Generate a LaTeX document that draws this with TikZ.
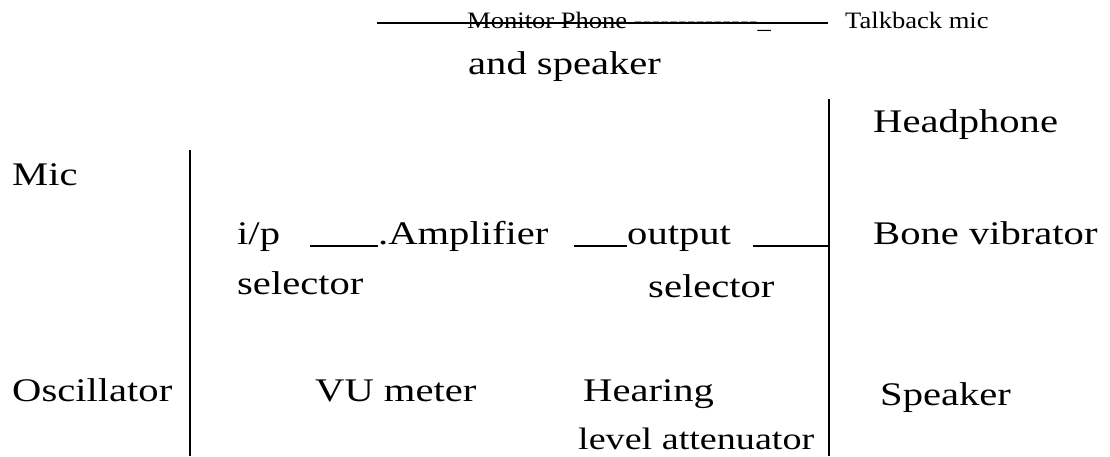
\documentclass[tikz,border=0pt]{standalone}
\usepackage{fontspec}
\setmainfont[FakeStretch=1.23]{Liberation Serif}
\newfontfamily\smallfont[FakeStretch=1.13]{Liberation Serif}
\newcommand\hy{-\kern0pt}
\begin{document}
\begin{tikzpicture}[x=1pt,y=-1pt,
  lbl/.style={anchor=base west,inner sep=0pt,font=\fontsize{33}{36}\selectfont},
  small/.style={anchor=base west,inner sep=0pt,font=\smallfont\fontsize{23.5}{26}\selectfont},
  wire/.style={line width=1.2pt}]
\useasboundingbox (0,0) rectangle (1110,456);

% top row
\coordinate (tl) at (377,23);
\coordinate (tr) at (828,23);
\draw[wire] (tl) -- (tr);
\node[small] (mon) at (467,28) {Monitor Phone \hy\hy\hy\hy\hy\hy\hy\hy\hy\hy\hy\hy\hy\hy\_};
\node[small] (talk) at (845,28) {Talkback mic};
\node[lbl] (spk) at (468,74) {and speaker};

% bus lines
\coordinate (ltop) at (190,150);
\coordinate (lbot) at (190,456);
\coordinate (rtop) at (829,99);
\coordinate (rmid) at (829,246);
\coordinate (rbot) at (829,456);
\draw[wire] (ltop) -- (lbot);
\draw[wire] (rtop) -- (rbot);

% inputs
\node[lbl] (mic) at (12,185) {Mic};
\node[lbl] (osc) at (12,401) {Oscillator};

% middle chain
\node[lbl] (ip) at (237,244) {i/p};
\node[lbl] (ipsel) at (237,294) {selector};
\node[lbl] (amp) at (378,244) {.Amplifier};
\node[lbl] (out) at (627,244) {output};
\node[lbl] (outsel) at (648,297) {selector};
\draw[wire] ([xshift=30pt,yshift=-2pt]ip.base east) -- ([yshift=-2pt]amp.base west);
\draw[wire] ([xshift=25pt,yshift=-2pt]amp.base east) -- ([yshift=-2pt]out.base west);
\draw[wire] ([xshift=22pt,yshift=-2pt]out.base east) -- (rmid);

% bottom row
\node[lbl] (vu) at (315,401) {VU meter};
\node[lbl] (hear) at (583,401) {Hearing};
\node[lbl,font=\fontsize{31}{34}\selectfont] (att) at (578,449) {level attenuator};

% outputs
\node[lbl] (head) at (873,132) {Headphone};
\node[lbl] (bone) at (873,244) {Bone vibrator};
\node[lbl] (spkr) at (880,405) {Speaker};
\end{tikzpicture}
\end{document}
